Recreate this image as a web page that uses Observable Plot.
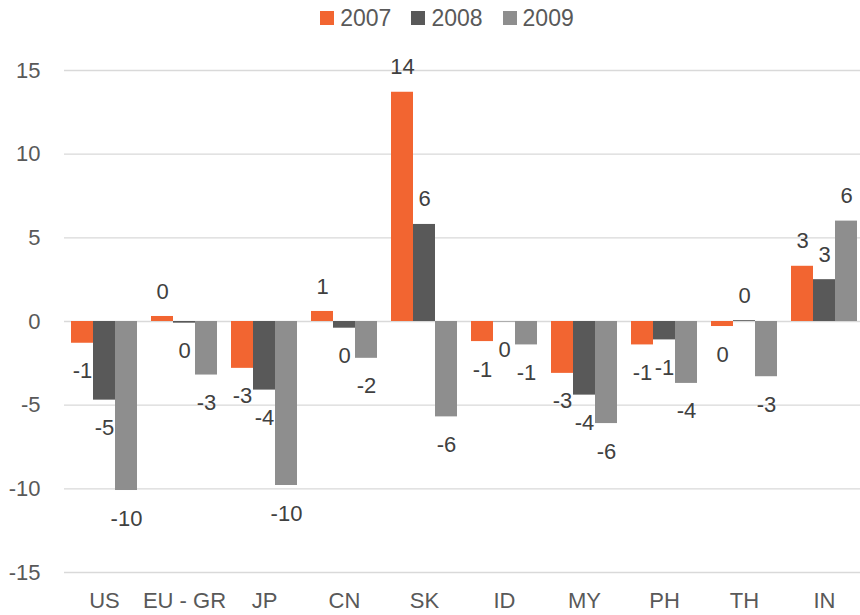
<!DOCTYPE html>
<html>
<head>
<meta charset="utf-8">
<script src="https://cdn.jsdelivr.net/npm/d3@7"></script>
<script src="https://cdn.jsdelivr.net/npm/@observablehq/plot@0.6"></script>
<style>
  html, body { margin: 0; padding: 0; background: white; overflow: hidden; }
  body { width: 860px; height: 615px; font-family: "Liberation Sans Narrow", "Liberation Sans", sans-serif; }
  #legend { height: 36px; display: flex; justify-content: center; align-items: center; padding-left: 34px; box-sizing: border-box; font-size: 23px; color: #595959; }
  .item { display: flex; align-items: center; margin: 0 10px; }
  .sw { width: 14px; height: 14px; margin-right: 6px; }
</style>
</head>
<body>
<div id="legend"></div>
<div id="chart"></div>
<script>
const categories = ["US", "EU - GR", "JP", "CN", "SK", "ID", "MY", "PH", "TH", "IN"];
const years = ["2007", "2008", "2009"];
const v2007 = [-1.3, 0.3, -2.8, 0.6, 13.7, -1.2, -3.1, -1.4, -0.3, 3.3];
const v2008 = [-4.7, -0.1, -4.1, -0.4, 5.8, -0.02, -4.4, -1.1, 0.05, 2.5];
const v2009 = [-10.1, -3.2, -9.8, -2.2, -5.7, -1.4, -6.1, -3.7, -3.3, 6.0];
const yTicks = [-15, -10, -5, 0, 5, 10, 15];
const colors = ["#f26531", "#595959", "#8e8e8e"];

const series = [v2007, v2008, v2009];
const data = categories.flatMap((cat, i) =>
  years.map((year, j) => ({cat, year, value: series[j][i]}))
);
const fmt = d => String(Math.round(d.value));

// legend
const legend = document.getElementById("legend");
years.forEach((y, i) => {
  const it = document.createElement("div");
  it.className = "item";
  it.innerHTML = `<span class="sw" style="background:${colors[i]}"></span><span>${y}</span>`;
  legend.appendChild(it);
});

const chart = Plot.plot({
  width: 860,
  height: 579,
  marginLeft: 62,
  marginRight: -5,
  marginTop: 34,
  marginBottom: 43,
  style: {
    fontFamily: '"Liberation Sans Narrow", "Liberation Sans", sans-serif',
    fontSize: "22px",
    color: "#595959",
    background: "white",
    overflow: "visible"
  },
  fx: {domain: categories, padding: 0, label: null},
  x: {domain: years, paddingInner: 0, paddingOuter: 0.245, axis: null},
  y: {domain: [-15, 15], label: null},
  color: {domain: years, range: colors},
  marks: [
    Plot.gridY(yTicks, {stroke: "#d9d9d9", strokeOpacity: 1, strokeWidth: 1.3}),
    Plot.axisY(yTicks, {tickSize: 0, tickPadding: 24, tickFormat: d => String(d), label: null}),
    Plot.axisFx({tickSize: 0, tickPadding: 20, label: null, anchor: "bottom"}),
    Plot.barY(data, {fx: "cat", x: "year", y: "value", fill: "year"}),
    Plot.text(data.filter(d => d.value >= 0), {fx: "cat", x: "year", y: "value", text: fmt, dy: -25, fill: "#404040"}),
    Plot.text(data.filter(d => d.value < 0), {fx: "cat", x: "year", y: "value", text: fmt, dy: 28, fill: "#404040"})
  ]
});
document.getElementById("chart").appendChild(chart);
</script>
</body>
</html>
